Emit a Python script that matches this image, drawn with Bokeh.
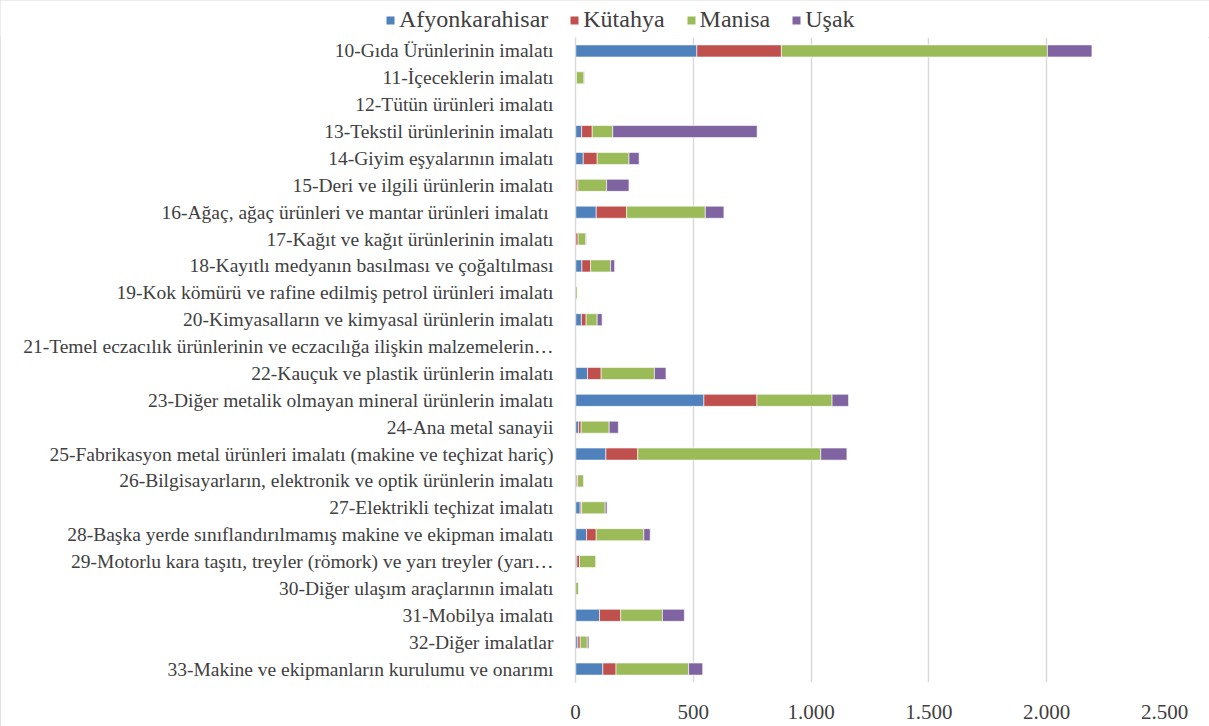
from bokeh.plotting import figure
from bokeh.layouts import column
from bokeh.models import ColumnDataSource, FactorRange, FixedTicker, CustomJSTickFormatter, Legend, Range1d
from bokeh.embed import file_html
from bokeh.resources import INLINE

categories = [
    "10-Gıda Ürünlerinin imalatı",
    "11-İçeceklerin imalatı",
    "12-Tütün ürünleri imalatı",
    "13-Tekstil ürünlerinin imalatı",
    "14-Giyim eşyalarının imalatı",
    "15-Deri ve ilgili ürünlerin imalatı",
    "16-Ağaç, ağaç ürünleri ve mantar ürünleri imalatı ",
    "17-Kağıt ve kağıt ürünlerinin imalatı",
    "18-Kayıtlı medyanın basılması ve çoğaltılması",
    "19-Kok kömürü ve rafine edilmiş petrol ürünleri imalatı",
    "20-Kimyasalların ve kimyasal ürünlerin imalatı",
    "21-Temel eczacılık ürünlerinin ve eczacılığa ilişkin malzemelerin…",
    "22-Kauçuk ve plastik ürünlerin imalatı",
    "23-Diğer metalik olmayan mineral ürünlerin imalatı",
    "24-Ana metal sanayii",
    "25-Fabrikasyon metal ürünleri imalatı (makine ve teçhizat hariç)",
    "26-Bilgisayarların, elektronik ve optik ürünlerin imalatı",
    "27-Elektrikli teçhizat imalatı",
    "28-Başka yerde sınıflandırılmamış makine ve ekipman imalatı",
    "29-Motorlu kara taşıtı, treyler (römork) ve yarı treyler (yarı…",
    "30-Diğer ulaşım araçlarının imalatı",
    "31-Mobilya imalatı",
    "32-Diğer imalatlar",
    "33-Makine ve ekipmanların kurulumu ve onarımı",
]

series = ["Afyonkarahisar", "Kütahya", "Manisa", "Uşak"]
afyonkarahisar = [515, 3, 0, 26, 33, 2, 88, 1, 27, 0, 25, 1, 51, 545, 13, 129, 3, 20, 47, 6, 0, 102, 10, 116]
kutahya = [359, 1, 0, 45, 59, 8, 129, 10, 37, 1, 20, 0, 58, 225, 11, 135, 6, 6, 41, 11, 0, 90, 10, 56]
manisa = [1129, 32, 2, 87, 135, 122, 334, 33, 85, 8, 47, 3, 226, 319, 119, 777, 25, 100, 202, 70, 13, 177, 30, 308]
usak = [189, 2, 0, 613, 43, 95, 79, 2, 17, 0, 21, 0, 49, 70, 39, 111, 2, 8, 27, 0, 1, 93, 7, 60]
x_ticks = [0, 500, 1000, 1500, 2000, 2500]

colors = ["#4f81bd", "#c0504d", "#9bbb59", "#8064a2"]

source = ColumnDataSource(data={
    "cat": categories,
    "Afyonkarahisar": afyonkarahisar,
    "Kütahya": kutahya,
    "Manisa": manisa,
    "Uşak": usak,
})

FONT = "Liberation Serif"
TEXT = "#404040"

# main chart
p = figure(
    width=1209, height=689,
    y_range=FactorRange(factors=list(reversed(categories))),
    x_range=Range1d(0, 2500),
    output_backend="svg", toolbar_location=None,
    min_border_left=575, min_border_right=45, min_border_top=0, min_border_bottom=44,
)
p.frame_align = False

p.hbar_stack(series, y="cat", height=0.45, color=colors,
             line_color="white", line_width=0.6, source=source)

p.outline_line_color = None
p.ygrid.grid_line_color = None
p.xgrid.grid_line_color = "#d9d9d9"
p.xgrid.grid_line_width = 1.5
p.xaxis.ticker = FixedTicker(ticks=x_ticks)
p.xaxis.formatter = CustomJSTickFormatter(code="return tick.toString().replace(/\\B(?=(\\d{3})+(?!\\d))/g, '.');")
p.xaxis.axis_line_color = None
p.xaxis.major_tick_line_color = None
p.xaxis.minor_tick_line_color = None
p.xaxis.major_label_text_font = FONT
p.xaxis.major_label_text_font_size = "21px"
p.xaxis.major_label_text_color = TEXT
p.xaxis.major_label_standoff = 16

p.yaxis.axis_line_color = "#d9d9d9"
p.yaxis.axis_line_width = 1.5
p.yaxis.major_tick_line_color = None
p.yaxis.minor_tick_line_color = None
p.yaxis.major_label_text_font = FONT
p.yaxis.major_label_text_font_size = "19.5px"
p.yaxis.major_label_text_color = TEXT
p.yaxis.major_label_standoff = 16

# legend strip on top; swatches come from hidden copies of the series glyphs
lp = figure(width=1209, height=37, x_range=Range1d(0, 1), y_range=Range1d(0, 1),
            output_backend="svg", toolbar_location=None,
            x_axis_location=None, y_axis_location=None,
            min_border_left=0, min_border_right=0, min_border_top=0, min_border_bottom=0)
lp.frame_align = False
lp.outline_line_color = None
lp.xgrid.visible = False
lp.ygrid.visible = False
legend_items = []
for s, c in zip(series, colors):
    r = lp.hbar(y=s, right=s, height=1, fill_color=c, line_color=None, source=source)
    r.visible = False
    legend_items.append((s, [r]))

legend = Legend(items=legend_items, orientation="horizontal", location=(385, 4),
                padding=0, margin=0, spacing=21, label_standoff=4,
                glyph_width=10, glyph_height=10, label_height=24,
                label_text_font=FONT, label_text_font_size="24px",
                label_text_color=TEXT, border_line_color=None,
                background_fill_alpha=0, inactive_fill_alpha=0)
lp.add_layout(legend, "center")

layout = column(lp, p, spacing=0)
layout.styles = {"outline": "1px solid #d9d9d9", "outline-offset": "-1px"}

open("out.html", "w").write(file_html(layout, INLINE))
